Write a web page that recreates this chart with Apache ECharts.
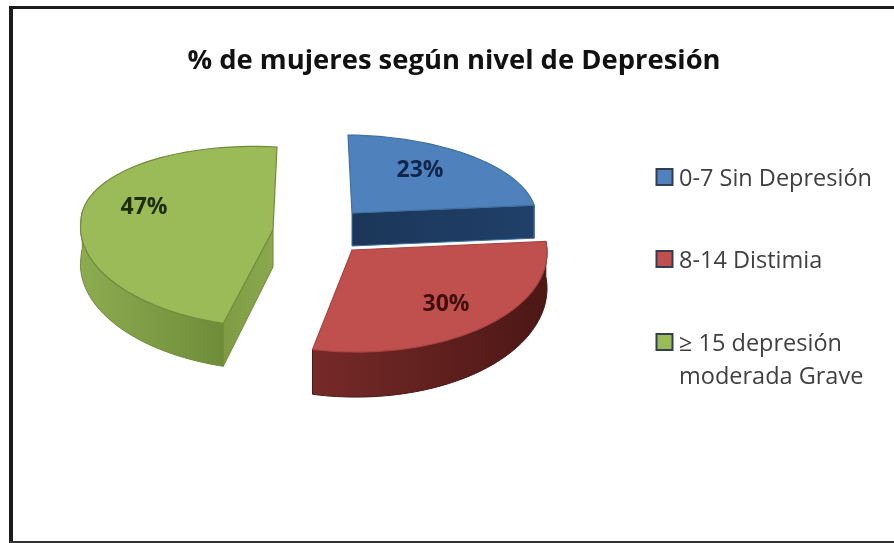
<!DOCTYPE html>
<html>
<head>
<meta charset="utf-8">
<style>html,body{margin:0;padding:0;background:#fff}#c{width:894px;height:543px;filter:blur(0.5px)}</style>
<script src="https://cdn.jsdelivr.net/npm/echarts@6/dist/echarts.min.js"></script>
</head>
<body>
<div id="c"></div>
<script>
const titleText = '% de mujeres según nivel de Depresión';
const categories = ['0-7 Sin Depresión', '8-14 Distimia', '≥ 15 depresión\nmoderada Grave'];
const values = [23, 30, 47];
const topColors = ['#4f81bd', '#c0504d', '#9bbb59'];
const edgeColors = ['#41709f', '#a84442', '#6f8c3c'];
const labelColors = ['#10264a', '#3f0f0e', '#1d2d08'];

// 3D projection of each exploded slice: apex, horizontal axis, back/front depth axes
const projection = [
  { apex: [352, 213], u: [184, 2], vb: [4, 78], vf: [4, 78], dm: 33, dc: 0, cut: 'end',
    wall: ['#1d3a5e', '#1d3a5e'], cutFill: ['#1b3658', '#20406a'], label: [420, 170] },
  { apex: [352, 250], u: [195, 4], vb: [-3, 100], vf: [-3, 102], dm: 36, dc: 9, cut: null,
    wall: ['#762a28', '#4c1715'], cutFill: null, label: [446, 304] },
  { apex: [273, 230], u: [192, 10], vb: [-4, 83], vf: [-14, 97], dm: 37, dc: 6, cut: 'start',
    wall: ['#8dab4f', '#6f8c3a'], cutFill: ['#7f9c44', '#8aa84d'], label: [144, 207] }
];

const total = values.reduce((a, b) => a + b, 0);
const angles = [];
values.reduce((acc, v) => { angles.push([acc, acc + v / total * Math.PI * 2]); return acc + v / total * Math.PI * 2; }, 0);

function topPoint(g, a) {
  const s = Math.sin(a), c = Math.cos(a), v = c < 0 ? g.vf : g.vb;
  return [g.apex[0] + g.u[0] * s - v[0] * c, g.apex[1] + g.u[1] * s - v[1] * c];
}
function depth(g, a) { return g.dm - g.dc * Math.cos(a); }
function arcSteps(a0, a1) {
  const pts = [], n = 60;
  for (let i = 0; i <= n; i++) pts.push(a0 + (a1 - a0) * i / n);
  return pts;
}
function grad(x0, x1, stops) {
  return new echarts.graphic.LinearGradient(x0, 0, x1, 0,
    [{ offset: 0, color: stops[0] }, { offset: 1, color: stops[1] }], true);
}

function renderSlice(i) {
  return function (params, api) {
    const g = projection[i], a0 = angles[i][0], a1 = angles[i][1];
    const top = arcSteps(a0, a1).map(a => topPoint(g, a));
    const children = [];
    // outer wall: only the part of the rim that faces the viewer
    const w0 = Math.max(a0, Math.PI * 0.45), w1 = Math.min(a1, Math.PI * 1.53);
    if (w1 > w0) {
      const steps = arcSteps(w0, w1);
      const upper = steps.map(a => topPoint(g, a));
      const lower = steps.map(a => { const p = topPoint(g, a); return [p[0], p[1] + depth(g, a)]; });
      const xs = upper.map(p => p[0]);
      children.push({
        type: 'polygon', shape: { points: upper.concat(lower.slice().reverse()) },
        style: { fill: grad(Math.min.apply(null, xs), Math.max.apply(null, xs), g.wall), stroke: g.wall[1], lineWidth: 1 }
      });
    }
    if (g.cut) {
      const a = g.cut === 'end' ? a1 : a0;
      const p = topPoint(g, a), d = depth(g, a);
      children.push({
        type: 'polygon',
        shape: { points: [g.apex, p, [p[0], p[1] + d], [g.apex[0], g.apex[1] + g.dm]] },
        style: { fill: grad(Math.min(p[0], g.apex[0]), Math.max(p[0], g.apex[0]), g.cutFill), stroke: edgeColors[i], lineWidth: 1 }
      });
    }
    children.push({
      type: 'polygon', shape: { points: [g.apex].concat(top) },
      style: { fill: topColors[i], stroke: edgeColors[i], lineWidth: 1.2 }
    });
    children.push({
      type: 'text',
      style: {
        x: g.label[0], y: g.label[1], text: api.value(0) + '%', align: 'center', verticalAlign: 'middle',
        fill: labelColors[i], font: 'bold 23px "Open Sans", sans-serif'
      }
    });
    return { type: 'group', children };
  };
}

const legendY = [177, 259, 342];
const legendGraphic = [];
categories.forEach((name, i) => {
  legendGraphic.push({
    type: 'rect', shape: { x: 656.5, y: legendY[i] - 8, width: 16, height: 16 },
    style: { fill: topColors[i], stroke: '#333f50', lineWidth: 2 }
  });
  legendGraphic.push({
    type: 'text',
    style: {
      x: 679, y: legendY[i] - 14, text: name, fill: '#404040', lineHeight: 33,
      font: '23.5px "Open Sans", sans-serif', verticalAlign: 'top'
    }
  });
});
const frameGraphic = [
  { type: 'rect', shape: { x: 9, y: 6, width: 885, height: 3 }, style: { fill: '#1c1c1c' } },
  { type: 'rect', shape: { x: 9, y: 6, width: 4, height: 537 }, style: { fill: '#1c1c1c' } },
  { type: 'rect', shape: { x: 9, y: 541, width: 885, height: 2 }, style: { fill: '#333333' } }
];

const chart = echarts.init(document.getElementById('c'), null, { renderer: 'canvas' });
chart.setOption({
  animation: false,
  backgroundColor: '#ffffff',
  title: {
    text: titleText, left: 449, top: 43, textAlign: 'center',
    textStyle: { fontFamily: '"Open Sans", sans-serif', fontWeight: 'bold', fontSize: 27.4, color: '#111111' }
  },
  graphic: { elements: frameGraphic.concat(legendGraphic) },
  series: categories.map((name, i) => ({
    type: 'custom', name: name, coordinateSystem: 'none', z: 2 + i,
    renderItem: renderSlice(i), data: [[values[i]]], silent: true, clip: false
  }))
});
</script>
</body>
</html>
